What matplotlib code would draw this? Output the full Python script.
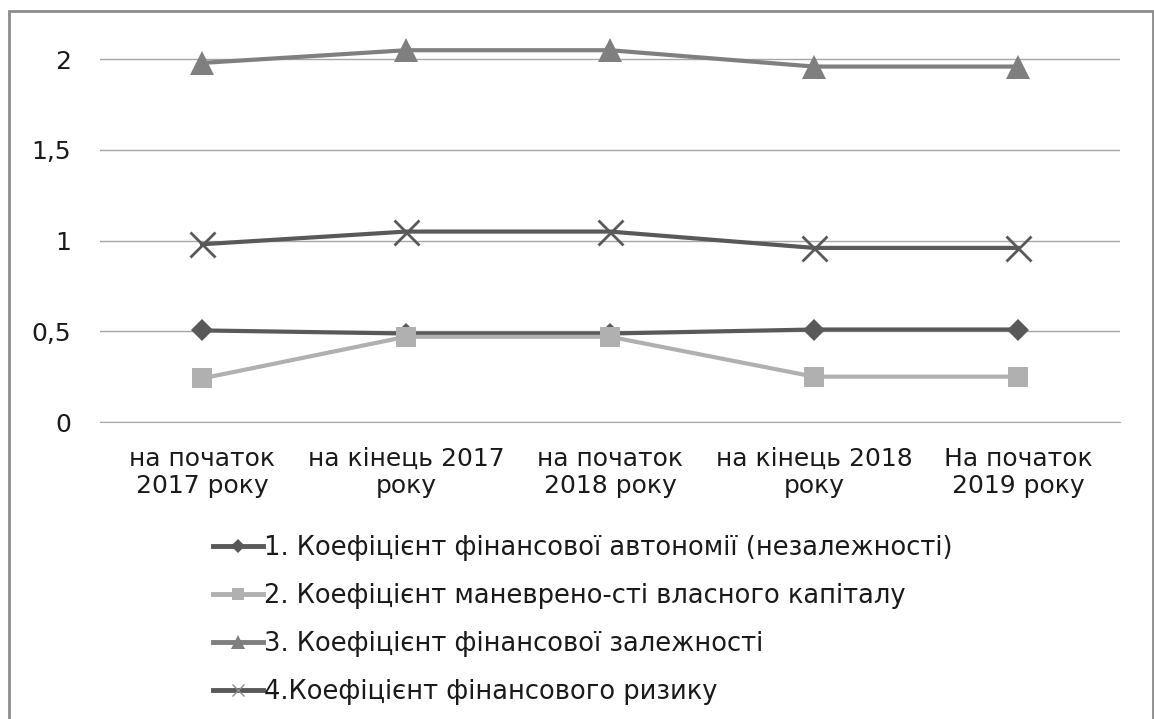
import matplotlib
matplotlib.use("Agg")
import matplotlib.pyplot as plt
from matplotlib.patches import Rectangle
from matplotlib.lines import Line2D

plt.rcParams['font.family'] = ['DejaVu Sans']

categories = ["на початок\n2017 року", "на кінець 2017\nроку", "на початок\n2018 року",
              "на кінець 2018\nроку", "На початок\n2019 року"]
autonomy = [0.505, 0.488, 0.488, 0.51, 0.51]
maneuverability = [0.24, 0.47, 0.47, 0.25, 0.25]
dependence = [1.98, 2.05, 2.05, 1.96, 1.96]
risk = [0.98, 1.05, 1.05, 0.96, 0.96]

labels = ["1. Коефіцієнт фінансової автономії (незалежності)",
          "2. Коефіцієнт маневрено-сті власного капіталу",
          "3. Коефіцієнт фінансової залежності",
          "4.Коефіцієнт фінансового ризику"]
yticks = [0, 0.5, 1, 1.5, 2]
ytick_labels = ["0", "0,5", "1", "1,5", "2"]

W, H = 1154, 719
fig = plt.figure(figsize=(W / 100, H / 100), dpi=100)

# plot area: y=0 at 422 px, y=2 at 59.3 px from the top; top edge at 20 px
y0_px, y2_px, top_px = 422, 59.3, 20
ymax = 2.0 + (y2_px - top_px) / ((y0_px - y2_px) / 2.0)
ax = fig.add_axes([100 / W, 1 - y0_px / H, 1020 / W, (y0_px - top_px) / H])
ax.set_ylim(0, ymax)
ax.set_xlim(-0.5, len(categories) - 0.5)

x = list(range(len(categories)))
ax.plot(x, dependence, color="#7f7f7f", lw=3, marker="^", markersize=17,
        markeredgewidth=0, zorder=3)
ax.plot(x, risk, color="#595959", lw=3, marker="x", markersize=18,
        markeredgewidth=2, zorder=3)
ax.plot(x, autonomy, color="#595959", lw=3, marker="D", markersize=11.5,
        markeredgewidth=0, zorder=3)
ax.plot(x, maneuverability, color="#b0b0b0", lw=3, marker="s", markersize=14,
        markeredgewidth=0, zorder=4)

ax.set_yticks(yticks)
ax.set_yticklabels(ytick_labels)
ax.set_xticks(x)
ax.set_xticklabels(categories, linespacing=1.18)
ax.grid(axis="y", color="#a6a6a6", lw=1)
ax.set_axisbelow(True)
for s in ["top", "right", "left"]:
    ax.spines[s].set_visible(False)
ax.spines["bottom"].set_color("#a6a6a6")
ax.tick_params(axis="both", length=0, labelsize=18, colors="#1a1a1a")
ax.tick_params(axis="y", pad=21)
ax.tick_params(axis="x", pad=18)

# legend entries built with the same styles at a smaller marker size
leg_handles = [
    Line2D([], [], color="#595959", lw=3.5, marker="D", markersize=7, markeredgewidth=0),
    Line2D([], [], color="#b0b0b0", lw=3.5, marker="s", markersize=9, markeredgewidth=0),
    Line2D([], [], color="#7f7f7f", lw=3.5, marker="^", markersize=10, markeredgewidth=0),
    Line2D([], [], color="#595959", lw=3.5, marker="x", markersize=9,
           markeredgewidth=1, markeredgecolor="#8c8c8c"),
]
leg = fig.legend(leg_handles, labels, loc="upper left",
                 bbox_to_anchor=(213 / W, 1 - 535 / H), frameon=False,
                 fontsize=18.5, handlelength=1.95, handletextpad=0.05,
                 labelspacing=0.85, borderpad=0, borderaxespad=0,
                 labelcolor="#1a1a1a")

fig.add_artist(Rectangle((9 / W, -0.01), (1153 - 9) / W, (H - 11) / H + 0.01,
                         transform=fig.transFigure, fill=False,
                         edgecolor="#8c8c8c", lw=2))

fig.savefig("out.png", dpi=100)
